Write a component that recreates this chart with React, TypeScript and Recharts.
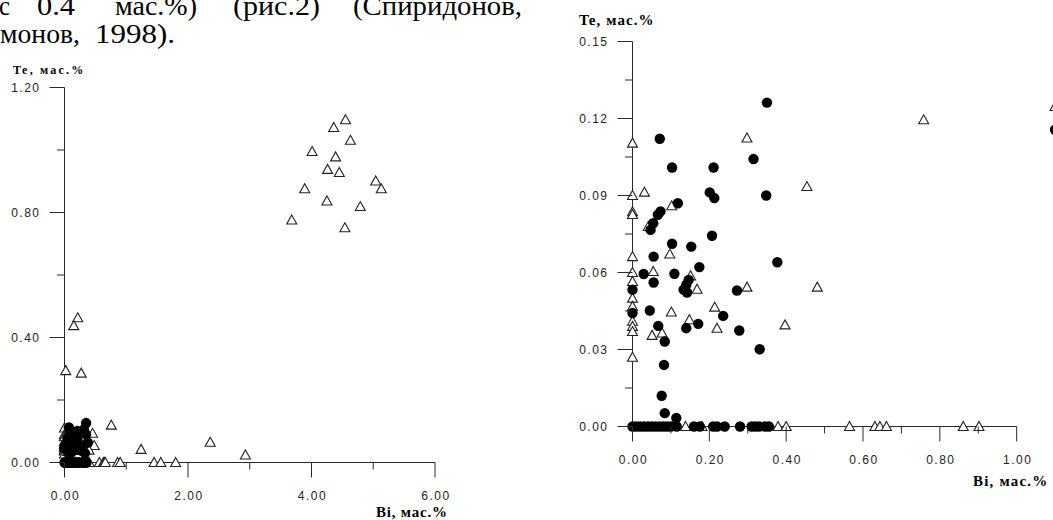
import React from "react";
import { ScatterChart, Scatter, XAxis, YAxis, ReferenceLine } from "recharts";

// ---------- data (Bi, Te in mass %) ----------
const rightCircles: number[][] = [
  [0.350, 0.1262], [0.071, 0.1121], [0.103, 0.1009], [0.211, 0.1009], [0.315, 0.1042],
  [0.201, 0.0912], [0.213, 0.0890], [0.348, 0.0900], [0.118, 0.0870], [0.073, 0.0838],
  [0.066, 0.0825], [0.054, 0.0792], [0.047, 0.0766], [0.207, 0.0743], [0.103, 0.0712],
  [0.153, 0.0701], [0.055, 0.0662], [0.174, 0.0621], [0.377, 0.0640], [0.029, 0.0594],
  [0.109, 0.0595], [0.055, 0.0561], [0.146, 0.0571], [0.140, 0.0552], [0.133, 0.0533],
  [0.142, 0.0522], [0.272, 0.0530], [0.0, 0.0533], [0.0, 0.0442], [0.045, 0.0452],
  [0.067, 0.0392], [0.140, 0.0383], [0.171, 0.0400], [0.236, 0.0431], [0.278, 0.0374],
  [0.084, 0.0331], [0.331, 0.0301], [0.082, 0.0240], [0.076, 0.0120], [0.084, 0.0052],
  [0.114, 0.0033],
  [0.0, 0], [0.01, 0], [0.02, 0], [0.03, 0], [0.04, 0], [0.05, 0], [0.06, 0], [0.07, 0],
  [0.08, 0], [0.09, 0], [0.10, 0], [0.115, 0], [0.16, 0], [0.175, 0], [0.21, 0], [0.22, 0],
  [0.24, 0], [0.28, 0], [0.31, 0], [0.32, 0], [0.33, 0], [0.345, 0], [0.355, 0],
];

const rightTriangles: number[][] = [
  [0.0, 0.1104], [0.298, 0.1124], [0.031, 0.0913], [0.0, 0.0900], [0.102, 0.0860],
  [0.0, 0.0837], [0.0, 0.0826], [0.041, 0.0779], [0.454, 0.0935], [0.0, 0.0662],
  [0.097, 0.0672], [0.0, 0.0600], [0.054, 0.0604], [0.0, 0.0565], [0.151, 0.0587],
  [0.168, 0.0535], [0.298, 0.0543], [0.481, 0.0543], [0.0, 0.0500], [0.0, 0.0468],
  [0.0, 0.0410], [0.0, 0.0390], [0.0, 0.0370], [0.0, 0.0270], [0.101, 0.0446],
  [0.214, 0.0465], [0.148, 0.0416], [0.220, 0.0383], [0.051, 0.0355], [0.077, 0.0364],
  [0.397, 0.0396], [0.758, 0.1195],
  [0.138, 0], [0.181, 0], [0.379, 0], [0.400, 0], [0.565, 0], [0.631, 0], [0.644, 0],
  [0.661, 0], [0.861, 0], [0.902, 0],
];

const rightEdgeTriangles: number[][] = [[1.1, 0.1247]];
const rightEdgeCircles: number[][] = [[1.1, 0.1156]];

const leftExtraTriangles: number[][] = [
  [0.215, 0.463], [0.15, 0.438], [0.02, 0.294], [0.27, 0.286], [1.24, 0.042],
  [2.36, 0.065], [2.93, 0.024], [1.45, 0], [1.56, 0], [1.80, 0],
  [4.55, 1.097], [4.36, 1.072], [4.63, 1.031], [4.01, 0.995], [4.39, 0.978],
  [4.26, 0.938], [4.45, 0.928], [5.04, 0.901], [5.13, 0.876], [3.89, 0.876],
  [4.25, 0.837], [4.79, 0.819], [3.68, 0.776], [4.54, 0.751],
];

// ---------- ticks ----------
const leftXTicks = [0, 1, 2, 3, 4, 5, 6];
const leftXMajor = [0, 2, 4, 6];
const leftYTicks = [0, 0.2, 0.4, 0.6, 0.8, 1.0, 1.2];
const leftYMajor = [0, 0.4, 0.8, 1.2];
const rightXTicks = [0, 0.1, 0.2, 0.3, 0.4, 0.5, 0.6, 0.7, 0.8, 0.9, 1.0];
const rightXMajor = [0, 0.2, 0.4, 0.6, 0.8, 1.0];
const rightYTicks = [0, 0.015, 0.03, 0.045, 0.06, 0.075, 0.09, 0.105, 0.12, 0.135, 0.15];
const rightYMajor = [0, 0.03, 0.06, 0.09, 0.12, 0.15];

const axisTitleY = "Te, мас.%";
const axisTitleX = "Bi, мас.%";
const textLine1 = ["с", "0.4", "мас.%)", "(рис.2)", "(Спиридонов,"];
const textLine2 = ["монов,", "1998)."];

const toPts = (a: number[][]) => a.map(([x, y]) => ({ x, y }));

const AX = "#2a2a2a";
const tickFont = { fontFamily: "'Liberation Sans', Arial, sans-serif", fontSize: 12, letterSpacing: 1.5, fill: "#222" };

const isIn = (arr: number[], v: number) => arr.some((m) => Math.abs(m - v) < 1e-9);

// axisY: pixel row of the x-axis line inside that chart's svg (layout constant)
const makeXTick = (major: number[], axisY: number) => (props: any) => {
  const { x, payload } = props;
  const v = payload.value;
  const mj = isIn(major, v);
  return (
    <g>
      <line x1={x} x2={x} y1={axisY} y2={axisY + (mj ? 15 : 7)} stroke={AX} strokeWidth={1} />
      {mj && (
        <text x={x + 1} y={axisY + 37.5} textAnchor="middle" {...tickFont}>
          {v.toFixed(2)}
        </text>
      )}
    </g>
  );
};

// axisX: pixel column of the y-axis line inside that chart's svg (layout constant)
const makeYTick = (major: number[], axisX: number) => (props: any) => {
  const { y, payload } = props;
  const v = payload.value;
  const mj = isIn(major, v);
  return (
    <g>
      <line x1={axisX - (mj ? 15 : 7.5)} x2={axisX} y1={y} y2={y} stroke={AX} strokeWidth={1} />
      {mj && (
        <text x={axisX - 24} y={y + 4.5} textAnchor="end" {...tickFont}>
          {v.toFixed(2)}
        </text>
      )}
    </g>
  );
};

const Tri = (props: any) => {
  const { cx, cy } = props;
  if (cx == null || cy == null) return <g />;
  return (
    <polygon
      points={`${cx},${cy - 5} ${cx + 5},${cy + 4} ${cx - 5},${cy + 4}`}
      fill="#fff"
      stroke="#222"
      strokeWidth={1.1}
    />
  );
};

const Dot = (props: any) => {
  const { cx, cy } = props;
  if (cx == null || cy == null) return <g />;
  return <circle cx={cx} cy={cy} r={5.2} fill="#000" />;
};

const LeftChart = () => (
  <ScatterChart width={530} height={520} margin={{ top: 87.5, right: 95, bottom: 17.5, left: 0.5 }}>
    <XAxis type="number" dataKey="x" domain={[0, 6]} ticks={leftXTicks} interval={0} tickLine={false}
      tickSize={0} tickMargin={0} height={40} axisLine={{ stroke: AX }} tick={makeXTick(leftXMajor, 462.5)} />
    <YAxis type="number" dataKey="y" domain={[0, 1.2]} ticks={leftYTicks} interval={0} tickLine={false}
      tickSize={0} tickMargin={0} width={64} axisLine={{ stroke: AX }} tick={makeYTick(leftYMajor, 64.5)} />
    <Scatter data={toPts([...rightTriangles, ...leftExtraTriangles])} shape={Tri} isAnimationActive={false} />
    <Scatter data={toPts(rightCircles)} shape={Dot} isAnimationActive={false} />
  </ScatterChart>
);

const RightChart = () => (
  <ScatterChart width={560} height={520} margin={{ top: 41.5, right: 6.5, bottom: 53.5, left: 0.5 }}>
    <XAxis type="number" dataKey="x" domain={[0, 1.2]} ticks={rightXTicks} interval={0} tickLine={false}
      tickSize={0} tickMargin={0} height={40} axisLine={false} tick={makeXTick(rightXMajor, 426.5)} />
    <YAxis type="number" dataKey="y" domain={[0, 0.15]} ticks={rightYTicks} interval={0} tickLine={false}
      tickSize={0} tickMargin={0} width={92} axisLine={{ stroke: AX }} tick={makeYTick(rightYMajor, 92.5)} />
    <ReferenceLine segment={[{ x: 0, y: 0 }, { x: 1, y: 0 }]} stroke={AX} strokeWidth={1} ifOverflow="visible" />
    <Scatter data={toPts([...rightTriangles, ...rightEdgeTriangles])} shape={Tri} isAnimationActive={false} />
    <Scatter data={toPts([...rightCircles, ...rightEdgeCircles])} shape={Dot} isAnimationActive={false} />
  </ScatterChart>
);

const serif = "'Liberation Serif', 'Times New Roman', serif";
const line1X = [-1, 37, 115, 233, 353];
const line1W = [11, 38, 82, 87, 169];
const line2X = [0, 95];
const line2W = [80, 80];

export default function App() {
  return (
    <div style={{ position: "absolute", left: 0, top: 0, width: 1053, height: 520, overflow: "hidden", background: "#fff" }}>
      <div style={{ position: "absolute", left: 0, top: 0 }}>
        <LeftChart />
      </div>
      <div style={{ position: "absolute", left: 540, top: 0 }}>
        <RightChart />
      </div>
      <svg width={1053} height={520} style={{ position: "absolute", left: 0, top: 0, pointerEvents: "none" }}>
        {textLine1.map((w, i) => (
          <text key={"a" + i} x={line1X[i]} y={15} fontFamily={serif} fontSize={28} textLength={line1W[i]}
            lengthAdjust="spacingAndGlyphs" fill="#000">{w}</text>
        ))}
        {textLine2.map((w, i) => (
          <text key={"b" + i} x={line2X[i]} y={43} fontFamily={serif} fontSize={28} textLength={line2W[i]}
            lengthAdjust="spacingAndGlyphs" fill="#000">{w}</text>
        ))}
        <text x={13} y={74} fontFamily={serif} fontWeight="bold" fontSize={12} letterSpacing={2.2} fill="#000">{axisTitleY}</text>
        <text x={579} y={25} fontFamily={serif} fontWeight="bold" fontSize={15} letterSpacing={1.1} fill="#000">{axisTitleY}</text>
        <text x={376} y={517} fontFamily={serif} fontWeight="bold" fontSize={15} letterSpacing={0.8} fill="#000">{axisTitleX}</text>
        <text x={973} y={486} fontFamily={serif} fontWeight="bold" fontSize={15} letterSpacing={1.2} fill="#000">{axisTitleX}</text>
      </svg>
    </div>
  );
}
